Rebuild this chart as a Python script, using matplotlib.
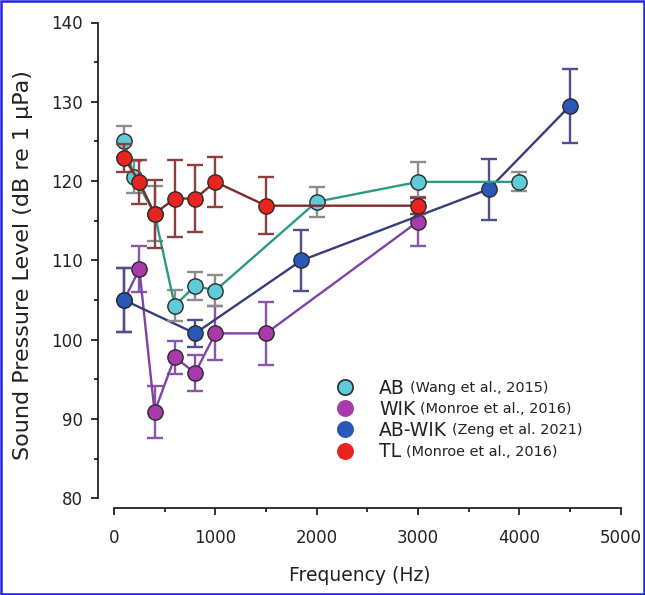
import matplotlib
matplotlib.use("Agg")
import matplotlib.pyplot as plt
from matplotlib.lines import Line2D
from matplotlib.patches import Rectangle
from matplotlib.ticker import MultipleLocator

plt.rcParams['font.family'] = ['DejaVu Sans']

# ---- data ----
ab_f = [100, 200, 400, 600, 800, 1000, 2000, 3000, 4000]
ab_v = [125.0, 120.5, 115.9, 104.3, 106.8, 106.2, 117.4, 119.9, 119.9]
ab_e = [1.9, 2.0, 3.5, 2.0, 1.8, 1.9, 1.9, 2.5, 1.2]

wik_f = [100, 250, 400, 600, 800, 1000, 1500, 3000]
wik_v = [105.0, 108.9, 90.9, 97.8, 95.8, 100.8, 100.8, 114.9]
wik_e = [4.0, 2.9, 3.3, 2.1, 2.3, 3.4, 4.0, 3.1]

abwik_f = [100, 800, 1850, 3700, 4500]
abwik_v = [105.0, 100.8, 110.0, 119.0, 129.5]
abwik_e = [4.0, 1.7, 3.8, 3.85, 4.65]

tl_f = [100, 250, 400, 600, 800, 1000, 1500, 3000]
tl_v = [122.9, 119.9, 115.9, 117.8, 117.8, 119.9, 116.9, 116.9]
tl_e = [1.8, 2.8, 4.3, 4.8, 4.2, 3.2, 3.6, 1.0]

names = ["AB", "WIK", "AB-WIK", "TL"]
refs = ["(Wang et al., 2015)", "(Monroe et al., 2016)",
        "(Zeng et al. 2021)", "(Monroe et al., 2016)"]

x_ticks = [0, 1000, 2000, 3000, 4000, 5000]
y_ticks = [80, 90, 100, 110, 120, 130, 140]

# ---- styles ----
styles = {
    "AB":     dict(fc="#5fcbd9", line="#2a9a82", err="#8c8c8c", z=4),
    "WIK":    dict(fc="#a83aab", line="#7d44a6", err="#8a56ab", z=2),
    "AB-WIK": dict(fc="#2a58b8", line="#353d7c", err="#4d4f90", z=3),
    "TL":     dict(fc="#e8241f", line="#7e2b2b", err="#8c3f3f", z=5),
}
series = {
    "AB": (ab_f, ab_v, ab_e),
    "WIK": (wik_f, wik_v, wik_e),
    "AB-WIK": (abwik_f, abwik_v, abwik_e),
    "TL": (tl_f, tl_v, tl_e),
}

W, H = 645, 595
fig = plt.figure(figsize=(W / 100, H / 100), dpi=100)
ax = fig.add_axes([98.3 / W, 1 - 508 / H, (620.7 - 98.3) / W, (508 - 22.5) / H])

ms = 11
for name in ["WIK", "AB-WIK", "AB", "TL"]:
    f, v, e = series[name]
    st = styles[name]
    ax.errorbar(f, v, yerr=e, fmt='none', ecolor=st["err"], elinewidth=1.7,
                capsize=5.5, capthick=1.7, zorder=st["z"], clip_on=False)
    ax.plot(f, v, '-', color=st["line"], lw=1.7, zorder=st["z"] + 0.1, clip_on=False)
    ax.plot(f, v, 'o', ms=ms, mfc=st["fc"], mec="#2b2b2b", mew=1.0,
            zorder=st["z"] + 0.2, clip_on=False)

ax.set_xlim(-155, 5000)
ax.set_ylim(78.78, 140)

for s in ["top", "right"]:
    ax.spines[s].set_visible(False)
ax.spines["left"].set_bounds(80, 140)
ax.spines["bottom"].set_bounds(0, 5000)
for s in ["left", "bottom"]:
    ax.spines[s].set_linewidth(1.3)
    ax.spines[s].set_color("#222222")

ax.set_xticks(x_ticks)
ax.set_yticks(y_ticks)
ax.xaxis.set_minor_locator(MultipleLocator(500))
ax.yaxis.set_minor_locator(MultipleLocator(5))
ax.tick_params(axis='both', which='major', direction='out', length=5, width=1.3,
               color="#222222", labelsize=12, labelcolor="#222222")
ax.tick_params(axis='both', which='minor', direction='out', length=3, width=1.3,
               color="#222222")
ax.tick_params(axis='x', which='major', pad=10)
ax.tick_params(axis='y', which='major', pad=6)

ax.set_xlabel("Frequency (Hz)", fontsize=13.5, color="#222222", labelpad=14)
ax.set_ylabel("Sound Pressure Level (dB re 1 \u03bcPa)", fontsize=16,
              color="#222222", labelpad=13)

# legend
handles = [Line2D([], [], ls='none', marker='o', ms=ms, mfc=styles[n]["fc"],
                  mec="#2b2b2b" if n == "AB" else styles[n]["fc"], mew=1.2)
           for n in names]
fs = 13.5
leg = ax.legend(handles, names, loc='upper left', frameon=False, fontsize=fs,
                bbox_to_anchor=(336.0 / W, 1 - 378.5 / H),
                bbox_transform=fig.transFigure, borderaxespad=0, borderpad=0,
                handlelength=1.0, handletextpad=1.29, labelspacing=0.12)
for t in leg.get_texts():
    t.set_color("#222222")

fig.canvas.draw()
for t, r in zip(leg.get_texts(), refs):
    bb = t.get_window_extent()
    fig.text((bb.x1 + 5) / W, (bb.y0 + bb.y1) / 2 / H, r, fontsize=10.4,
             color="#222222", ha='left', va='center')

# blue frame around figure
fig.patches.append(Rectangle((0.002, 0.002), 0.996, 0.996, transform=fig.transFigure,
                             fill=False, edgecolor="#2222ee", linewidth=1.8))

fig.savefig("out.png", dpi=100)
